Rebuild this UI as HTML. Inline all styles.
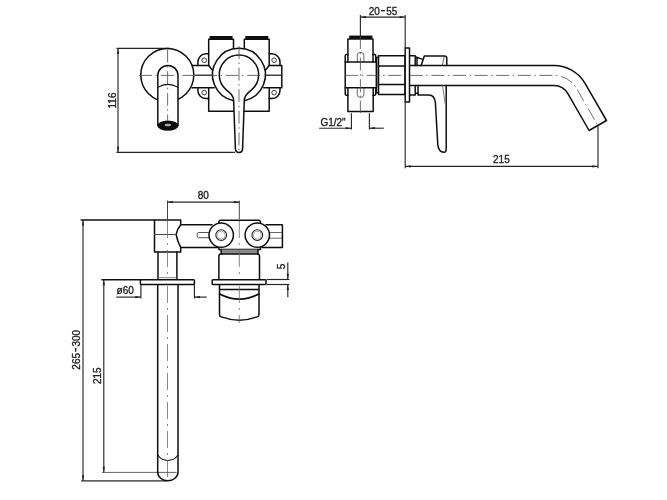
<!DOCTYPE html>
<html lang="en">
<head>
<meta charset="utf-8">
<title>Wall-mounted basin mixer – technical drawing</title>
<style>
  html, body { margin: 0; padding: 0; background: #fff; }
  body { width: 667px; height: 500px; overflow: hidden; font-family: "Liberation Sans", sans-serif; }
  svg { display: block; }
  .m { fill: none; stroke: #111; stroke-width: 1.5; stroke-linejoin: round; stroke-linecap: round; }
  .w { fill: #fff; stroke: #111; stroke-width: 1.5; stroke-linejoin: round; stroke-linecap: round; }
  .t { fill: none; stroke: #3a3a3a; stroke-width: 0.8; }
  .d { fill: none; stroke: #262626; stroke-width: 1.15; }
  .g { fill: none; stroke: #777; stroke-width: 0.9; }
  .c { fill: none; stroke: #4a4a4a; stroke-width: 0.8; stroke-dasharray: 13 3.5 1.5 3.6; }
  .c2 { stroke: #6a6a6a; stroke-dasharray: 17 5 2 5; }
  .a { fill: #222; stroke: none; }
  .k { fill: #111; stroke: none; }
  text { font-family: "Liberation Sans", sans-serif; font-size: 10px; fill: #222; stroke: #222; stroke-width: 0.32; text-anchor: middle; }
  .h { font-size: 15px; stroke-width: 0.2; }
</style>
</head>
<body>
<svg width="667" height="500" viewBox="0 0 667 500">
<defs><filter id="soft" x="0" y="0" width="667" height="500" filterUnits="userSpaceOnUse"><feGaussianBlur stdDeviation="0.4"/></filter></defs>
<rect x="0" y="0" width="667" height="500" fill="#fff"/>
<g filter="url(#soft)">

<!-- ================= FRONT VIEW ================= -->
<g id="front">
  <!-- dimension 116 -->
  <line class="d" x1="116.5" y1="48.4" x2="170" y2="48.4"/>
  <line class="d" x1="118" y1="48.4" x2="118" y2="152.4"/>
  <line class="d" x1="116.5" y1="152.4" x2="235" y2="152.4"/>
  <path class="a" d="M118,48.4 l-1.15,5.6 h2.3z"/>
  <path class="a" d="M118,152.4 l-1.15,-5.6 h2.3z"/>
  <text transform="translate(116,100.5) rotate(-90) scale(1,1)">116</text>

  <!-- flange -->
  <circle class="w" cx="167.3" cy="75" r="26.5"/>
  <!-- horizontal pipe -->
  <path class="m" d="M192,65.5 H208.7 L212.3,70 M192,87.7 H214.2 M265.6,70 L269.2,65.5 H281.8 V87.7 H263.7"/>
  <path class="g" style="stroke:#444;stroke-width:1.6" d="M195,75.3 H212.5 M265.5,75.3 H281"/>
  <!-- body -->
  <path class="m" d="M208.7,53.2 V39.3 H233.5 V49 M244.3,49 V39.3 H269.2 V53.2 M208.7,98.2 V111.2 H269.2 V98.2"/>
  <rect class="k" x="209.6" y="36" width="23" height="3.3"/>
  <rect class="k" x="245.3" y="36" width="23" height="3.3"/>
  <!-- ears -->
  <path class="m" d="M208.7,53.8 H206.1 A8.2,8.2 0 0 0 197.9,62 V65.5 M208.7,53.2 V65.5"/>
  <path class="m" d="M197.9,87.7 V90.4 A8.2,8.2 0 0 0 206.1,98.6 H208.7 V87.7"/>
  <path class="m" d="M269.2,53.8 H271.8 A8.2,8.2 0 0 1 280,62 V65.5 M269.2,53.2 V65.5"/>
  <path class="m" d="M280,87.7 V90.4 A8.2,8.2 0 0 1 271.8,98.6 H269.2 V87.7"/>
  <circle class="t" style="stroke:#2a2a2a;stroke-width:0.9" cx="204.2" cy="60.2" r="2.3"/>
  <circle class="t" style="stroke:#2a2a2a;stroke-width:0.9" cx="204.2" cy="92.6" r="2.3"/>
  <circle class="t" style="stroke:#2a2a2a;stroke-width:0.9" cx="274.1" cy="60.2" r="2.3"/>
  <circle class="t" style="stroke:#2a2a2a;stroke-width:0.9" cx="274.1" cy="92.6" r="2.3"/>
  <!-- handle ring -->
  <circle cx="238.95" cy="74.75" r="26.45" fill="#fff"/>
  <path class="m" d="M233.6,100.7 A26.45,26.45 0 1 1 244.3,100.7"/>
  <path class="w" d="M244.3,100 C244.3,95 248.5,92.4 251.6,89.84 A19.7,19.7 0 1 0 226.3,89.84 C229.4,92.4 233.6,95 233.6,100 L235.4,148.6 Q235.6,152.4 239,152.4 Q242.4,152.4 242.6,148.6 Z"/>
  <!-- spout tube -->
  <path class="w" d="M157.8,125.5 V75.5 A10.1,10.1 0 0 1 178,75.5 V125.5"/>
  <path class="m" style="stroke-width:1.1" d="M157.8,87.4 A19.6,19.6 0 0 1 178,87.4"/>
  <ellipse class="k" cx="167.9" cy="125.6" rx="10.6" ry="5.2"/>
  <ellipse cx="167.9" cy="125" rx="3.2" ry="1.2" fill="#aaa"/>
  <!-- centre lines -->
  <path class="c" d="M139.2,75.4 H264" stroke-dashoffset="0"/>
  <path class="c" d="M167.6,49.6 V121"/>
  <path class="c" d="M239,46 V152"/>
</g>

<!-- ================= SIDE VIEW ================= -->
<g id="side">
  <!-- dimension 20-55 -->
  <line class="d" x1="360.4" y1="15" x2="360.4" y2="36"/>
  <line class="d" x1="405.2" y1="15" x2="405.2" y2="48"/>
  <line class="d" x1="360.4" y1="17.1" x2="405.2" y2="17.1"/>
  <path class="a" d="M360.4,17.1 l5.6,-1.15 v2.3z"/>
  <path class="a" d="M405.2,17.1 l-5.6,-1.15 v2.3z"/>
  <text transform="translate(383,14.8) scale(1,1)">20<tspan class="h" dx="0.7">-</tspan><tspan dx="0.7">55</tspan></text>

  <!-- inlets -->
  <rect class="k" x="349.2" y="35.6" width="23.2" height="3.3"/>
  <path class="m" d="M347.9,62 V38.9 H373 V62"/>
  <path class="m" d="M347.9,87.8 V111.5 H373.2 V87.8"/>
  <path class="m" d="M347.9,54.5 H346.6 Q345.2,54.5 345.2,56 V62 M373,54.5 H374.4 Q375.8,54.5 375.8,56 V62"/>
  <path class="m" d="M347.9,95.3 H346.6 Q345.2,95.3 345.2,93.8 V87.8 M373,95.3 H374.4 Q375.8,95.3 375.8,93.8 V87.8"/>
  <path class="g" style="stroke:#5a5a5a" d="M357.3,62 V55 Q357.3,52.4 360.6,52.4 Q363.9,52.4 363.9,55 V62"/>
  <path class="g" style="stroke:#5a5a5a" d="M357.3,87.8 V94.8 Q357.3,97.4 360.6,97.4 Q363.9,97.4 363.9,94.8 V87.8"/>
  <!-- main block -->
  <rect class="m" x="345.2" y="62" width="31.3" height="25.8"/>
  <path class="m" d="M376.5,57.5 H378.5 M376.5,92.8 H378.5 M376.5,57.5 V92.8"/>
  <!-- hex block -->
  <rect class="m" x="378.5" y="55.8" width="26.5" height="38.6"/>
  <path class="m" style="stroke-width:1.7" d="M378.5,66 H405 M378.5,84.5 H405"/>
  <!-- spout pipe -->
  <path class="m" d="M409.5,65.6 H554 A36,36 0 0 1 585.18,83.6 L606.5,120.5 L589.1,130.5 L567.86,93.7 A16.2,16.2 0 0 0 554,85.4 H409.5"/>
  <!-- pieces behind plate -->
  <path class="m" d="M409.5,55.8 H415.2 V65.6 M415.2,56.6 L422.6,59.4 M417,57.4 V65.6"/>
  <path class="m" d="M409.5,95 H415.2 V85.4 M415.2,93.2 H418"/>
  <!-- handle upper -->
  <path class="m" d="M421.2,65.6 L424.3,56 H444.6 Q446.8,56 446.8,58.2 V65.6"/>
  <path class="t" d="M444.2,56.4 L442.4,65.4"/>
  <!-- handle lower -->
  <path class="m" d="M418,85.4 V95 H428.8 Q434.6,95 435.4,102.8 L437.8,144.6 Q438.4,151.8 444,152.3 Q446.2,152.3 446.2,148.4 V85.4"/>
  <path class="g" d="M442.6,85.6 L445.2,104"/>
  <!-- wall plate -->
  <rect class="w" x="405.2" y="48" width="4.3" height="54"/>

  <!-- centre lines -->
  <path class="c" d="M345,75.4 H554 A26,26 0 0 1 576.5,88.4 L598.5,126.5"/>
  <path class="c" d="M360.4,36 V113"/>

  <!-- dimension 215 -->
  <line class="d" x1="405.2" y1="102" x2="405.2" y2="168.2"/>
  <line class="d" x1="598" y1="126" x2="598" y2="168.2"/>
  <line class="d" x1="405.2" y1="166.4" x2="598" y2="166.4"/>
  <path class="a" d="M405.2,166.4 l5.6,-1.15 v2.3z"/>
  <path class="a" d="M598,166.4 l-5.6,-1.15 v2.3z"/>
  <text transform="translate(501.4,163.4) scale(1,1)">215</text>

  <!-- dimension G1/2" -->
  <line class="d" x1="351.4" y1="113.3" x2="351.4" y2="129.6"/>
  <line class="d" x1="369.4" y1="113.3" x2="369.4" y2="129.6"/>
  <line class="d" x1="319.2" y1="128.2" x2="351.4" y2="128.2"/>
  <line class="d" x1="369.4" y1="128.2" x2="383.8" y2="128.2"/>
  <path class="a" d="M351.4,128.2 l-5.6,-1.15 v2.3z"/>
  <path class="a" d="M369.4,128.2 l5.6,-1.15 v2.3z"/>
  <text transform="translate(333,125.6) scale(1,1)">G1/2"</text>
</g>


<!-- ================= BOTTOM VIEW ================= -->
<g id="bottom">
  <!-- dimension 80 -->
  <line class="d" style="stroke:#444;stroke-width:1" x1="167.5" y1="200.6" x2="167.5" y2="219"/>
  <line class="d" style="stroke:#444;stroke-width:1" x1="239.3" y1="200.6" x2="239.3" y2="219"/>
  <line class="d" x1="167.3" y1="202.1" x2="239.5" y2="202.1"/>
  <path class="a" d="M167.3,202.1 l5.6,-1.15 v2.3z"/>
  <path class="a" d="M239.5,202.1 l-5.6,-1.15 v2.3z"/>
  <text transform="translate(203.3,199.3) scale(1,1)">80</text>

  <!-- dimension 265-300 -->
  <line class="m" style="stroke-width:1.5" x1="81.2" y1="220" x2="180" y2="220"/>
  <line class="d" x1="83" y1="220" x2="83" y2="480.8"/>
  <line class="d" style="stroke-width:1.2" x1="81.2" y1="480.8" x2="167" y2="480.8"/>
  <path class="a" d="M83,220 l-1.15,5.6 h2.3z"/>
  <path class="a" d="M83,480.8 l-1.15,-5.6 h2.3z"/>
  <text transform="translate(79.8,349.8) rotate(-90) scale(1,1)">265<tspan class="h" dx="0.7">-</tspan><tspan dx="0.7">300</tspan></text>

  <!-- dimension 215 -->
  <line class="m" x1="102" y1="279.7" x2="140.4" y2="279.7"/>
  <line class="d" x1="103.8" y1="279.3" x2="103.8" y2="472.4"/>
  <line class="t" x1="102" y1="472.4" x2="176.5" y2="472.4"/>
  <path class="a" d="M103.8,279.7 l-1.15,5.6 h2.3z"/>
  <path class="a" d="M103.8,472.4 l-1.15,-5.6 h2.3z"/>
  <text transform="translate(101.3,375.7) rotate(-90) scale(1,1)">215</text>

  <!-- dimension ø60 -->
  <line class="d" x1="140.9" y1="284.2" x2="140.9" y2="298.4"/>
  <line class="d" x1="194.4" y1="284.2" x2="194.4" y2="298.4"/>
  <line class="d" x1="116.2" y1="297.1" x2="140.9" y2="297.1"/>
  <line class="d" x1="194.4" y1="297.1" x2="206.8" y2="297.1"/>
  <path class="a" d="M140.9,297.1 l-5.6,-1.15 v2.3z"/>
  <path class="a" d="M194.4,297.1 l5.6,-1.15 v2.3z"/>
  <text transform="translate(125.2,294.2) scale(1,1)">ø60</text>

  <!-- spout block -->
  <path class="m" d="M154.5,220 V251.9 H180.7 V247.4 Q177.3,241 176.1,234.5 Q177.3,229 180.7,224.8 V220"/>
  <path class="m" style="stroke-width:1.2;stroke:#4a4a4a" d="M154.6,234.5 H176"/>
  <!-- horizontal pipe -->
  <path class="m" d="M180.7,224.8 H212 M180.7,247.4 H218 M266,224.8 H282.4 V247.4 H262"/>
  <rect class="g" style="stroke:#555;stroke-width:1" x="197.2" y="232.5" width="13" height="5.2" rx="1.4"/>
  <path class="g" style="stroke:#555" d="M268.5,232.5 H282 M268.5,238.2 H282"/>
  <!-- valve body -->
  <path class="m" d="M218.9,226 V221.4 L220,220.2 H259.3 L260.4,221.4 V226 M218.9,244 V249.5 H260.4 V244"/>
  <path d="M220,249.5 H259.2 L258.2,254 H221 Z" fill="#8a8a8a" stroke="none"/>
  <path class="m" d="M221.2,249.5 V254 M257.9,249.5 V254"/>
  <path class="m" d="M218.9,279.3 V256 Q218.9,254 221,254 H257.4 Q259.5,254 259.5,256 V279.3"/>
  <circle class="w" cx="221.2" cy="235.1" r="12.2"/>
  <circle class="w" cx="257.3" cy="235.1" r="12.2"/>
  <circle class="t" style="stroke:#222;stroke-width:1.1" cx="221.2" cy="235.1" r="5.4"/>
  <circle class="g" style="stroke-width:0.6" cx="221.2" cy="235.1" r="4"/>
  <circle class="t" style="stroke:#222;stroke-width:1.1" cx="257.3" cy="235.1" r="5.4"/>
  <circle class="g" style="stroke-width:0.6" cx="257.3" cy="235.1" r="4"/>
  <!-- handle -->
  <path class="m" d="M219.5,284.5 V314.4 Q219.5,316.3 221.3,316.9 Q239.2,323.4 257.2,316.9 Q259,316.3 259,314.4 V284.5 M219.5,289.5 H259"/>
  <path class="m" style="stroke-width:1.8" d="M219.6,294 Q239.2,304.2 258.9,294"/>
  <rect class="w" x="212.2" y="279.7" width="53.8" height="4.8" rx="0.8"/>
  <!-- dimension 5 -->
  <line class="d" x1="266.6" y1="279.5" x2="289.4" y2="279.5"/>
  <line class="d" x1="266.6" y1="284.5" x2="289.4" y2="284.5"/>
  <line class="d" x1="287.8" y1="262.6" x2="287.8" y2="279.3"/>
  <line class="d" x1="287.8" y1="284.5" x2="287.8" y2="297.2"/>
  <path class="a" d="M287.8,279.3 l-1.15,-5.6 h2.3z"/>
  <path class="a" d="M287.8,284.5 l-1.15,5.6 h2.3z"/>
  <text transform="translate(284.6,266.5) rotate(-90) scale(1,1)">5</text>

  <!-- spout -->
  <path class="m" d="M158,252 V279 M176.9,252 V279"/>
  <path class="g" d="M158.5,277.7 H176.4"/>
  <path class="m" d="M157.7,284.2 V472 A10.15,8.8 0 0 0 178,472 V284.2"/>
  <path class="m" style="stroke-width:1.1" d="M157.7,455 A12.2,12.2 0 0 0 178,455"/>
  <rect class="w" x="140.4" y="279.7" width="54" height="4.7" rx="0.8"/>

  <!-- centre lines -->
  <path class="c c2" d="M167.5,221 V278 M167.5,286 V482"/>
  <path class="c c2" d="M239.3,221 V278 M239.3,286 V323"/>
</g>


</g>
</svg>
</body>
</html>
